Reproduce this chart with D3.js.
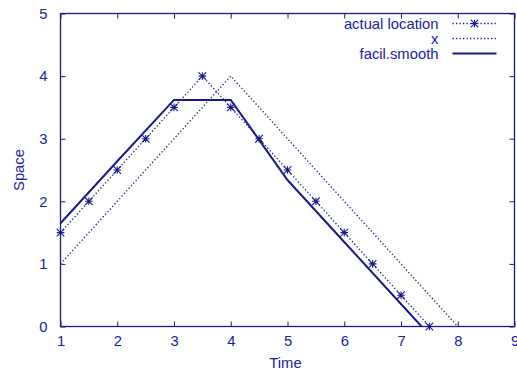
<!DOCTYPE html>
<html>
<head>
<meta charset="utf-8">
<script src="https://cdn.jsdelivr.net/npm/d3@7"></script>
<style>
	body { margin: 0; background: #fff; }
	text { font-family: "Liberation Sans", Arial, Helvetica, sans-serif; }
</style>
</head>
<body>
<div id="chart"></div>
<script>
// actual location (time, space)
const actualTime = [1, 1.5, 2, 2.5, 3, 3.5, 4, 4.5, 5, 5.5, 6, 6.5, 7, 7.5];
const actualSpace = [1.5, 2, 2.5, 3, 3.5, 4, 3.5, 3, 2.5, 2, 1.5, 1, 0.5, 0];
// x
const xTime = [1, 4, 8];
const xSpace = [1, 4, 0];
// facil.smooth
const smoothTime = [1, 2, 3, 4, 5, 6, 7, 8];
const smoothSpace = [1.65, 2.64, 3.62, 3.62, 2.34, 1.35, 0.36, -0.63];

const xTicks = [1, 2, 3, 4, 5, 6, 7, 8, 9];
const yTicks = [0, 1, 2, 3, 4, 5];
const legendLabels = ["actual location", "x", "facil.smooth"];

const W = 517, H = 372;
const margin = {top: 13.5, right: 2.5, bottom: 45.5, left: 60.5};
const width = W - margin.left - margin.right;
const height = H - margin.top - margin.bottom;
const ink = "#1a1a8c";
const textInk = "#2020a0";
const fontSize = "14.8px";

const svg = d3.select("#chart").append("svg")
	.attr("width", W)
	.attr("height", H);

const chart = svg.append("g")
	.attr("transform", `translate(${margin.left}, ${margin.top})`);

const xScale = d3.scaleLinear().domain([1, 9]).range([0, width]);
const yScale = d3.scaleLinear().domain([0, 5]).range([height, 0]);

chart.append("clipPath").attr("id", "plot-clip")
	.append("rect").attr("width", width).attr("height", height);

// axes: ticks inward on all four sides
const bottomAxis = chart.append("g")
	.attr("transform", `translate(0, ${height})`)
	.call(d3.axisBottom(xScale).tickValues(xTicks).tickFormat(d3.format("d")).tickSize(-5).tickPadding(9).tickSizeOuter(0));
const topAxis = chart.append("g")
	.call(d3.axisTop(xScale).tickValues(xTicks).tickSize(-5).tickFormat("").tickSizeOuter(0));
const leftAxis = chart.append("g")
	.call(d3.axisLeft(yScale).tickValues(yTicks).tickFormat(d3.format("d")).tickSize(-5).tickPadding(13).tickSizeOuter(0));
const rightAxis = chart.append("g")
	.attr("transform", `translate(${width}, 0)`)
	.call(d3.axisRight(yScale).tickValues(yTicks).tickSize(-5).tickFormat("").tickSizeOuter(0));

[bottomAxis, topAxis, leftAxis, rightAxis].forEach((g) => {
	g.select(".domain").remove();
	g.selectAll("line").attr("stroke", ink);
	g.selectAll("text").attr("fill", textInk).attr("font-size", fontSize);
});

chart.append("rect")
	.attr("width", width)
	.attr("height", height)
	.attr("fill", "none")
	.attr("stroke", ink)
	.attr("stroke-width", 1.3);

const line = d3.line()
	.x((d) => xScale(d[0]))
	.y((d) => yScale(d[1]));

const plot = chart.append("g").attr("clip-path", "url(#plot-clip)");

const actualPts = actualTime.map((t, i) => [t, actualSpace[i]]);
const xPts = xTime.map((t, i) => [t, xSpace[i]]);
const smoothPts = smoothTime.map((t, i) => [t, smoothSpace[i]]);

plot.append("path")
	.attr("d", line(xPts))
	.attr("fill", "none")
	.attr("stroke", ink)
	.attr("stroke-width", 1.3)
	.attr("stroke-dasharray", "1.3,2.2");

plot.append("path")
	.attr("d", line(actualPts))
	.attr("fill", "none")
	.attr("stroke", ink)
	.attr("stroke-width", 1.3)
	.attr("stroke-dasharray", "1.3,2.2");

plot.append("path")
	.attr("d", line(smoothPts))
	.attr("fill", "none")
	.attr("stroke", ink)
	.attr("stroke-width", 2);

const r = 3.8;
const star = `M${-r},0L${r},0M0,${-r}L0,${r}M${-r},${-r}L${r},${r}M${-r},${r}L${r},${-r}`;

chart.selectAll(".star")
	.data(actualPts)
	.enter()
	.append("path")
	.attr("class", "star")
	.attr("transform", (d) => `translate(${xScale(d[0])}, ${yScale(d[1])})`)
	.attr("d", star)
	.attr("stroke", ink)
	.attr("stroke-width", 1.1)
	.attr("fill", "none");

// axis labels
chart.append("text")
	.attr("x", width / 2 - 2)
	.attr("y", height + 41)
	.attr("text-anchor", "middle")
	.attr("fill", textInk)
	.attr("font-size", fontSize)
	.text("Time");

chart.append("text")
	.attr("transform", `translate(${-37}, ${height / 2}) rotate(-90)`)
	.attr("text-anchor", "middle")
	.attr("fill", textInk)
	.attr("font-size", fontSize)
	.text("Space");

// legend
const legend = chart.append("g")
	.attr("transform", `translate(${378}, ${10})`);
const legendStyles = [
	{dash: "1.3,2.2", w: 1.3, star: true},
	{dash: "1.3,2.2", w: 1.3, star: false},
	{dash: null, w: 2, star: false}
];
legendLabels.forEach((label, i) => {
	const row = legend.append("g").attr("transform", `translate(0, ${i * 15})`);
	row.append("text")
		.attr("x", 0)
		.attr("y", 5)
		.attr("text-anchor", "end")
		.attr("fill", textInk)
		.attr("font-size", fontSize)
		.text(label);
	row.append("line")
		.attr("x1", 14).attr("x2", 58)
		.attr("y1", 0).attr("y2", 0)
		.attr("stroke", ink)
		.attr("stroke-width", legendStyles[i].w)
		.attr("stroke-dasharray", legendStyles[i].dash);
	if (legendStyles[i].star) {
		row.append("path")
			.attr("transform", "translate(36, 0)")
			.attr("d", star)
			.attr("stroke", ink)
			.attr("stroke-width", 1.1)
			.attr("fill", "none");
	}
});
</script>
</body>
</html>
